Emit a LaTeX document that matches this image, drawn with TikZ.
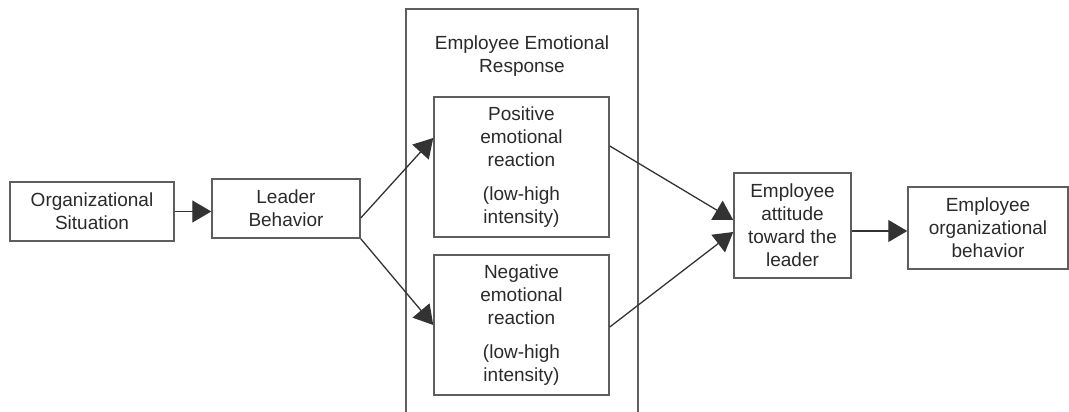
\documentclass[tikz,border=0pt]{standalone}
\usepackage{fontspec}
\setmainfont{Liberation Sans}
\usetikzlibrary{arrows.meta}
\definecolor{boxline}{HTML}{5E5E5E}
\definecolor{arrowline}{HTML}{333333}
\definecolor{txt}{HTML}{2A2A2A}
\begin{document}
\begin{tikzpicture}[x=1pt,y=-1pt,
  every node/.style={text=txt, font=\fontsize{19}{23}\selectfont},
  stagebox/.style={draw=boxline, line width=1.5pt, align=center, inner sep=0pt,
    minimum width=#1},
  flow/.style={draw=arrowline, line width=1.3pt,
    -{Triangle[length=19pt,width=22pt]}}
]
\useasboundingbox (0,0) rectangle (1069,412);

% container for the two emotional reactions (open at the bottom)
\draw[boxline, line width=1.5pt] (406,412) -- (406,9) -- (638,9) -- (638,412);
\node[align=center] (title) at (522,56) {Employee Emotional\\Response};

\node[stagebox=164pt, minimum height=59pt] (org) at (92,211.5)
  {Organizational\\Situation};
\node[stagebox=148pt, minimum height=59pt] (leader) at (286,208.5)
  {Leader\\Behavior};
\node[stagebox=175pt, minimum height=140pt] (pos) at (521.5,167)
  {Positive\\emotional\\reaction\\[11pt](low-high\\intensity)};
\node[stagebox=175pt, minimum height=140pt] (neg) at (521.5,325)
  {Negative\\emotional\\reaction\\[11pt](low-high\\intensity)};
\node[stagebox=117pt, minimum height=105pt] (att) at (792.5,225.5)
  {Employee\\attitude\\toward the\\leader};
\node[stagebox=160pt, minimum height=82pt] (beh) at (988,228)
  {Employee\\organizational\\behavior};

\draw[flow] (org.east) -- ([yshift=-3pt]leader.west);
\draw[flow] ([yshift=-9.5pt]leader.east) -- ([yshift=29pt]pos.west);
\draw[flow] (leader.south east) -- (neg.west);
\draw[flow] ([yshift=21pt]pos.east) -- ([yshift=5.5pt]att.west);
\draw[flow] ([yshift=-2pt]neg.east) -- ([yshift=-6.5pt]att.west);
\draw[flow] ([yshift=-5.5pt]att.east) -- ([yshift=-3pt]beh.west);
\end{tikzpicture}
\end{document}
